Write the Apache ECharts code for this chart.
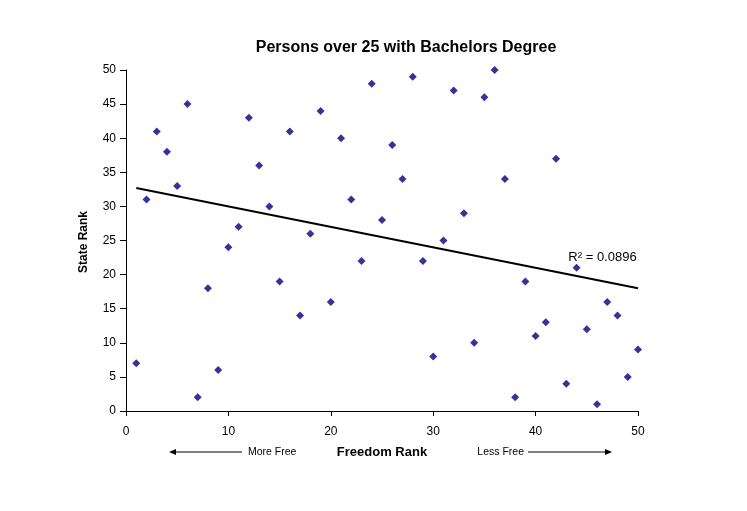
<!DOCTYPE html>
<html>
<head>
<meta charset="utf-8">
<script src="https://cdn.jsdelivr.net/npm/echarts@6/dist/echarts.min.js"></script>
<style>
html,body{margin:0;padding:0;background:#fff;}
#chart{width:747px;height:511px;}
</style>
</head>
<body>
<div id="chart"></div>
<script>
// Freedom rank (x) vs state rank (y)
const freedomRank = [1,2,3,4,5,6,7,8,9,10,11,12,13,14,15,16,17,18,19,20,21,22,23,24,25,26,27,28,29,30,31,32,33,34,35,36,37,38,39,40,41,42,43,44,45,46,47,48,49,50];
const stateRank   = [7,31,41,38,33,45,2,18,6,24,27,43,36,30,19,41,14,26,44,16,40,31,22,48,28,39,34,49,22,8,25,47,29,10,46,50,34,2,19,11,13,37,4,21,12,1,16,14,5,9];
const xTicks = {min:0, max:50, interval:10};
const yTicks = {min:0, max:50, interval:5};
const r2Label = 'R\u00B2 = 0.0896';
const titleText = 'Persons over 25 with Bachelors Degree';

// least squares trend line computed from the data
const n = freedomRank.length;
let sx=0, sy=0, sxx=0, sxy=0;
for (let i=0;i<n;i++){ sx+=freedomRank[i]; sy+=stateRank[i]; sxx+=freedomRank[i]*freedomRank[i]; sxy+=freedomRank[i]*stateRank[i]; }
const slope = (n*sxy - sx*sy)/(n*sxx - sx*sx);
const intercept = (sy - slope*sx)/n;
const xFirst = Math.min(...freedomRank), xLast = Math.max(...freedomRank);
const trend = [[xFirst, intercept + slope*xFirst],[xLast, intercept + slope*xLast]];

const chart = echarts.init(document.getElementById('chart'), null, {renderer:'canvas'});
const font = 'Liberation Sans, Arial, sans-serif';
chart.setOption({
  animation:false,
  backgroundColor:'#fff',
  title:{text:titleText, left:401, textAlign:'center', top:35,
    textStyle:{fontFamily:font, fontSize:16, fontWeight:'bold', color:'#000'}},
  grid:{left:126, right:109, top:70, bottom:100, containLabel:false},
  xAxis:{type:'value', min:xTicks.min, max:xTicks.max, interval:xTicks.interval,
    name:'Freedom Rank', nameLocation:'middle', nameGap:35,
    nameTextStyle:{fontFamily:font, fontSize:13, fontWeight:'bold', color:'#000'},
    axisLine:{show:true, onZero:false, lineStyle:{color:'#000', width:1}},
    axisTick:{show:true, inside:false, length:5, lineStyle:{color:'#000'}},
    axisLabel:{margin:15, fontFamily:font, fontSize:12, color:'#000'},
    splitLine:{show:false}},
  yAxis:{type:'value', min:yTicks.min, max:yTicks.max, interval:yTicks.interval,
    axisLine:{show:true, onZero:false, lineStyle:{color:'#000', width:1}},
    axisTick:{show:true, inside:false, length:6, lineStyle:{color:'#000'}},
    axisLabel:{margin:10, fontFamily:font, fontSize:12, color:'#000'},
    splitLine:{show:false}},
  series:[
    {type:'scatter', data:freedomRank.map((x,i)=>[x, stateRank[i]]), symbol:'diamond', symbolSize:8,
     itemStyle:{color:'#000080'}},
    {type:'line', data:trend, showSymbol:false, symbol:'none', lineStyle:{color:'#000', width:2}, silent:true}
  ],
  graphic:[
    {type:'text', x:84, y:242, rotation:Math.PI/2, style:{text:'State Rank', fontFamily:font, fontSize:12, fontWeight:'bold', fill:'#000', align:'center', verticalAlign:'middle'}},
    {type:'text', x:602.5, y:257, style:{text:r2Label, fontFamily:font, fontSize:13, fill:'#000', align:'center', verticalAlign:'middle'}},
    {type:'text', x:248, y:452, style:{text:'More Free', fontFamily:font, fontSize:10.5, fill:'#000', align:'left', verticalAlign:'middle'}},
    {type:'text', x:524, y:452, style:{text:'Less Free', fontFamily:font, fontSize:10.5, fill:'#000', align:'right', verticalAlign:'middle'}},
    {type:'line', shape:{x1:175, y1:452, x2:242, y2:452}, style:{stroke:'#000', lineWidth:1}},
    {type:'polygon', shape:{points:[[169,452],[176,449],[176,455]]}, style:{fill:'#000'}},
    {type:'line', shape:{x1:528, y1:452, x2:606, y2:452}, style:{stroke:'#000', lineWidth:1}},
    {type:'polygon', shape:{points:[[612,452],[605,449],[605,455]]}, style:{fill:'#000'}}
  ]
});
</script>
</body>
</html>
